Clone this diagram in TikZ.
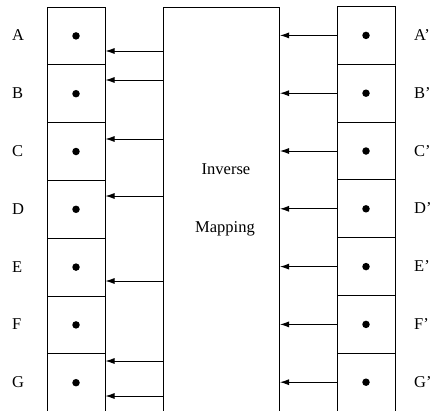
\documentclass[tikz,border=0pt]{standalone}
\usepackage{fontspec}
\setmainfont{Liberation Serif}
\usetikzlibrary{arrows.meta,positioning}
\tikzset{
  % storage cells on both sides
  cellbox/.style={rectangle,draw,line width=1pt,minimum width=58pt,minimum height=57.8pt,inner sep=0pt},
  ptdot/.style={circle,fill,inner sep=0pt,minimum size=7.5pt},
  % the mapping block in the middle
  mapbox/.style={rectangle,draw,line width=1pt,minimum width=116pt,minimum height=420pt,inner sep=0pt,anchor=north west},
  lbl/.style={font=\fontsize{16.5}{19}\selectfont,inner sep=0pt},
  maparrow/.style={line width=0.9pt,-{Latex[length=9pt,width=6pt]}},
}

\begin{document}
\begin{tikzpicture}[x=1pt,y=-1pt]
\useasboundingbox (0,0) rectangle (434,410);
\clip (0,0) rectangle (434,410);

%% middle block
\node[mapbox] (inv) at (163,7) {};
\node[lbl,anchor=base] (invtxt) at (226,174) {Inverse};
\node[lbl,anchor=base] (maptxt) at (225,232) {Mapping};

%% left cells A..G and right cells A'..G'
\foreach \n [count=\i] in {A,B,C,D,E,F,G} {
  \node[cellbox] (\n) at (76,{7+57.8*(\i-0.5)}) {};
  \node[ptdot] (\n dot) at (\n) {};
  \node[lbl,anchor=base west] (\n lbl) at (12,{7+57.8*(\i-0.5)+5}) {\n};
  \node[cellbox] (\n r) at (366,{6.5+57.8*(\i-0.5)}) {};
  \node[ptdot] (\n rdot) at (\n r) {};
  \node[lbl,anchor=base west] (\n rlbl) at (414,{6.5+57.8*(\i-0.5)+5}) {\n'};
  %% right cell -> block
  \draw[maparrow] (\n r.west) -- (\n r.west -| inv.east);
}

%% block -> left cells
\foreach \y/\c [count=\k] in {51/A,80/B,139/C,196/D,281/E,361/G,396/G} {
  \path (inv.north west) ++(0,\y-7) coordinate (src\k);
  \draw[maparrow] (src\k) -- (src\k -| \c.east);
}
\end{tikzpicture}
\end{document}
